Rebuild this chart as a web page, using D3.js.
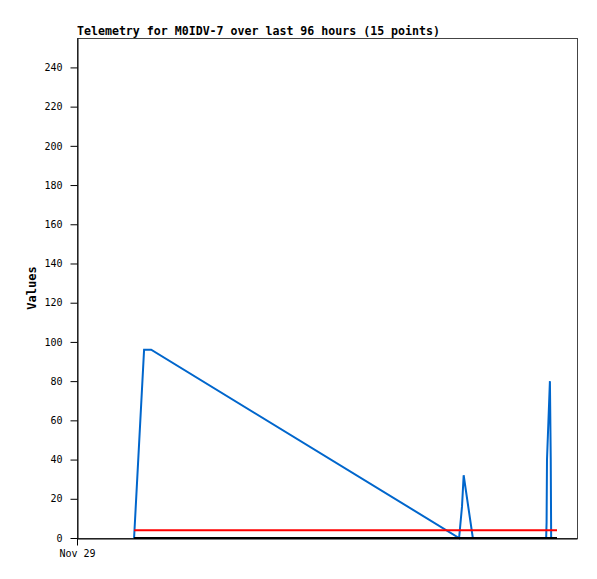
<!doctype html>
<html>
<head>
    <style>
        body { margin: 0; background: #fff; }
        .axis text { font-family: "DejaVu Sans Mono", monospace; font-size: 10px; fill: #000; }
        .axis path, .axis line { stroke: #000; }
    </style>
    <script src="https://d3js.org/d3.v7.min.js"></script>
</head>
<body>
    <svg width="597" height="579"></svg>
    <script>
        // telemetry sample times (Nov 29) and channel values
        var times = ["02:17", "02:41", "02:58", "15:17", "15:24", "15:28", "15:50",
                     "18:46", "18:47", "18:48", "18:55", "18:57", "18:58", "19:05", "19:12"];
        var blueValues = [0, 96, 96, 0, 16, 32, 0, 0, 8, 40, 80, 40, 0, 0, 0];
        var redValues = [4, 4, 4, 4, 4, 4, 4, 4, 4, 4, 4, 4, 4, 4, 4];
        var blackValues = [0, 0, 0, 0, 0, 0, 0, 0, 0, 0, 0, 0, 0, 0, 0];
        var yTicks = [0, 20, 40, 60, 80, 100, 120, 140, 160, 180, 200, 220, 240];
        var xTickLabels = ["Nov 29"];

        var parse = d3.timeParse("%Y-%m-%d %H:%M");
        var dates = times.map(function(t) { return parse("2023-11-29 " + t); });

        var svg = d3.select("svg"),
            marginLeft = 77, marginTop = 38, width = 500, height = 500;

        var x = d3.scaleTime()
            .domain([parse("2023-11-29 00:00"), parse("2023-11-29 20:00")])
            .range([0, width]);
        var y = d3.scaleLinear().domain([0, 255]).range([height, 0]);

        var g = svg.append("g").attr("transform", "translate(" + marginLeft + "," + marginTop + ")");

        // frame
        g.append("rect")
         .attr("x", 0.5).attr("y", 0.5)
         .attr("width", width).attr("height", height)
         .attr("fill", "none")
         .attr("stroke", "#444");

        var line = d3.line()
            .x(function(d) { return x(d.t); })
            .y(function(d) { return y(d.v); });

        function series(vals, colour) {
            var pts = vals.map(function(v, i) { return { t: dates[i], v: v }; });
            g.append("path")
             .datum(pts)
             .attr("fill", "none")
             .attr("stroke", colour)
             .attr("stroke-width", 2)
             .attr("d", line);
        }
        series(blueValues, "#0066cc");
        series(redValues, "#ff0000");
        series(blackValues, "#000000");

        g.append("g")
         .attr("class", "axis")
         .attr("transform", "translate(0.5,0)")
         .call(d3.axisLeft(y).tickValues(yTicks).tickSize(7).tickPadding(8).tickSizeOuter(0));

        g.append("g")
         .attr("class", "axis")
         .attr("transform", "translate(0," + (height + 0.5) + ")")
         .call(d3.axisBottom(x)
            .tickValues([parse("2023-11-29 00:00")])
            .tickFormat(function(d, i) { return xTickLabels[i]; })
            .tickSize(7).tickPadding(4).tickSizeOuter(0));

        svg.append("text")
           .attr("x", marginLeft)
           .attr("y", 35)
           .attr("font-family", "DejaVu Sans Mono, monospace")
           .attr("font-weight", "bold")
           .attr("font-size", "11.6px")
           .text("Telemetry for M0IDV-7 over last 96 hours (15 points)");

        svg.append("text")
           .attr("transform", "translate(36,288) rotate(-90)")
           .attr("text-anchor", "middle")
           .attr("font-family", "DejaVu Sans Mono, monospace")
           .attr("font-weight", "bold")
           .attr("font-size", "12px")
           .text("Values");
    </script>
</body>
</html>
